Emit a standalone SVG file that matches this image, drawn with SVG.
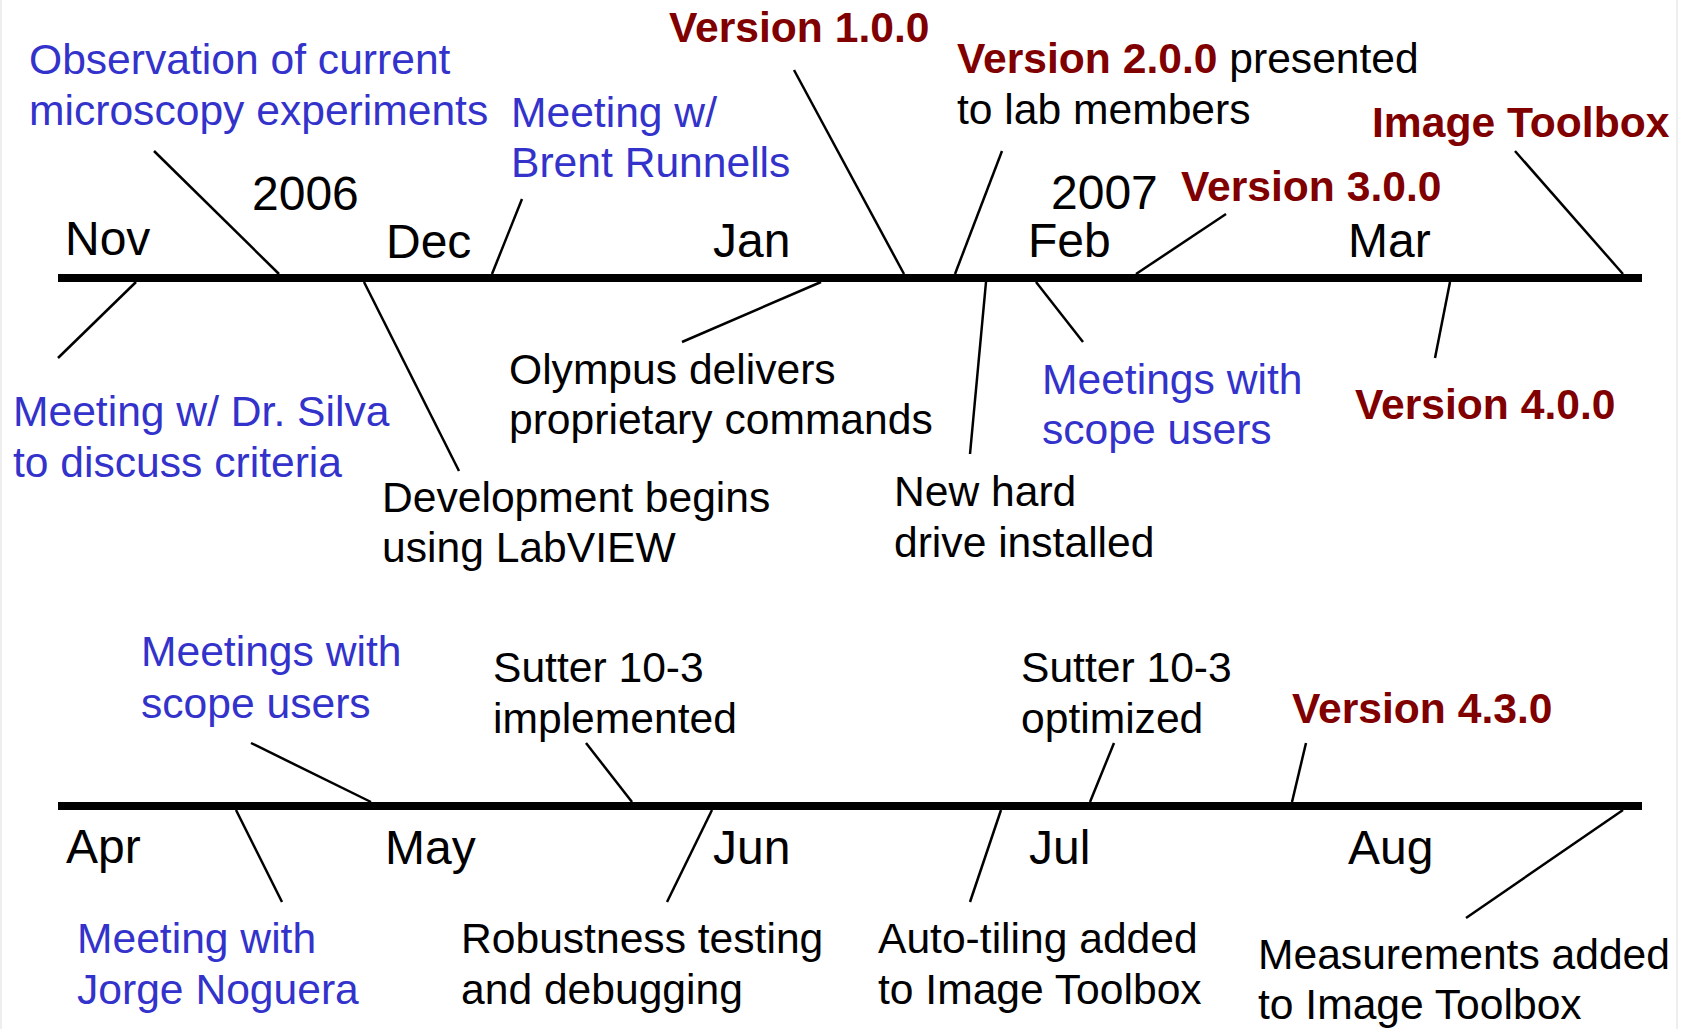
<svg xmlns="http://www.w3.org/2000/svg" width="1683" height="1029" viewBox="0 0 1683 1029">
<style>
text{font-family:"Liberation Sans",Arial,sans-serif;font-size:42.6px;fill:#000}
.b{fill:#3333cc}
.r{fill:#800000;font-weight:bold}
.m{font-size:48px}
.axis{stroke:#000;stroke-width:8}
.c{stroke:#000;stroke-width:2.5}
</style>
<rect width="1683" height="1029" fill="#fff"/>
<line x1="1" y1="0" x2="1" y2="1029" stroke="#eeeeee" stroke-width="2"/>
<line x1="1677" y1="0" x2="1677" y2="1029" stroke="#eeeeee" stroke-width="2"/>
<g id="axes">
<line class="axis" x1="58" y1="278" x2="1642" y2="278"/>
<line class="axis" x1="58" y1="806" x2="1642" y2="806"/>
</g>
<g id="connectors">
<line class="c" x1="154" y1="151" x2="279" y2="274"/>
<line class="c" x1="522" y1="199" x2="492" y2="274"/>
<line class="c" x1="794" y1="70" x2="904" y2="274"/>
<line class="c" x1="1002" y1="151" x2="955" y2="274"/>
<line class="c" x1="1226" y1="214" x2="1136" y2="274"/>
<line class="c" x1="1515" y1="151" x2="1623" y2="274"/>
<line class="c" x1="136" y1="282" x2="58" y2="358"/>
<line class="c" x1="364" y1="282" x2="459" y2="471"/>
<line class="c" x1="821" y1="282" x2="682" y2="342"/>
<line class="c" x1="986" y1="282" x2="970" y2="454"/>
<line class="c" x1="1036" y1="282" x2="1083" y2="342"/>
<line class="c" x1="1450" y1="282" x2="1435" y2="358"/>
<line class="c" x1="251" y1="743" x2="371" y2="802"/>
<line class="c" x1="586" y1="743" x2="632" y2="802"/>
<line class="c" x1="1114" y1="743" x2="1090" y2="802"/>
<line class="c" x1="1306" y1="743" x2="1292" y2="802"/>
<line class="c" x1="236" y1="810" x2="282" y2="902"/>
<line class="c" x1="712" y1="810" x2="667" y2="902"/>
<line class="c" x1="1001" y1="810" x2="970" y2="902"/>
<line class="c" x1="1623" y1="810" x2="1466" y2="918"/>
</g>
<g id="months">
<text class="m" x="252" y="210">2006</text>
<text class="m" x="1051" y="209">2007</text>
<text class="m" x="65" y="255">Nov</text>
<text class="m" x="386" y="258">Dec</text>
<text class="m" x="713" y="257">Jan</text>
<text class="m" x="1028" y="257">Feb</text>
<text class="m" x="1348" y="257">Mar</text>
<text class="m" x="66" y="863">Apr</text>
<text class="m" x="385" y="864">May</text>
<text class="m" x="713" y="864">Jun</text>
<text class="m" x="1029" y="864">Jul</text>
<text class="m" x="1348" y="864">Aug</text>
</g>
<g id="observation"><text class="b" x="29" y="74">Observation of current</text><text class="b" x="29" y="125">microscopy experiments</text></g>
<g id="brent"><text class="b" x="511" y="127">Meeting w/</text><text class="b" x="511" y="177">Brent Runnells</text></g>
<g id="v100"><text class="r" x="669" y="42">Version 1.0.0</text></g>
<g id="v200"><text x="957" y="73"><tspan class="r">Version 2.0.0</tspan> presented</text><text x="957" y="124">to lab members</text></g>
<g id="v300"><text class="r" x="1181" y="201">Version 3.0.0</text></g>
<g id="imagetoolbox"><text class="r" x="1372" y="137">Image Toolbox</text></g>
<g id="silva"><text class="b" x="13" y="426">Meeting w/ Dr. Silva</text><text class="b" x="13" y="477">to discuss criteria</text></g>
<g id="development"><text x="382" y="512">Development begins</text><text x="382" y="562">using LabVIEW</text></g>
<g id="olympus"><text x="509" y="384">Olympus delivers</text><text x="509" y="434">proprietary commands</text></g>
<g id="harddrive"><text x="894" y="506">New hard</text><text x="894" y="557">drive installed</text></g>
<g id="meetings1"><text class="b" x="1042" y="394">Meetings with</text><text class="b" x="1042" y="444">scope users</text></g>
<g id="v400"><text class="r" x="1355" y="419">Version 4.0.0</text></g>
<g id="meetings2"><text class="b" x="141" y="666">Meetings with</text><text class="b" x="141" y="718">scope users</text></g>
<g id="sutter1"><text x="493" y="682">Sutter 10-3</text><text x="493" y="733">implemented</text></g>
<g id="sutter2"><text x="1021" y="682">Sutter 10-3</text><text x="1021" y="733">optimized</text></g>
<g id="v430"><text class="r" x="1292" y="723">Version 4.3.0</text></g>
<g id="jorge"><text class="b" x="77" y="953">Meeting with</text><text class="b" x="77" y="1004">Jorge Noguera</text></g>
<g id="robustness"><text x="461" y="953">Robustness testing</text><text x="461" y="1004">and debugging</text></g>
<g id="autotiling"><text x="878" y="953">Auto-tiling added</text><text x="878" y="1004">to Image Toolbox</text></g>
<g id="measurements"><text x="1258" y="969">Measurements added</text><text x="1258" y="1019">to Image Toolbox</text></g>
</svg>
